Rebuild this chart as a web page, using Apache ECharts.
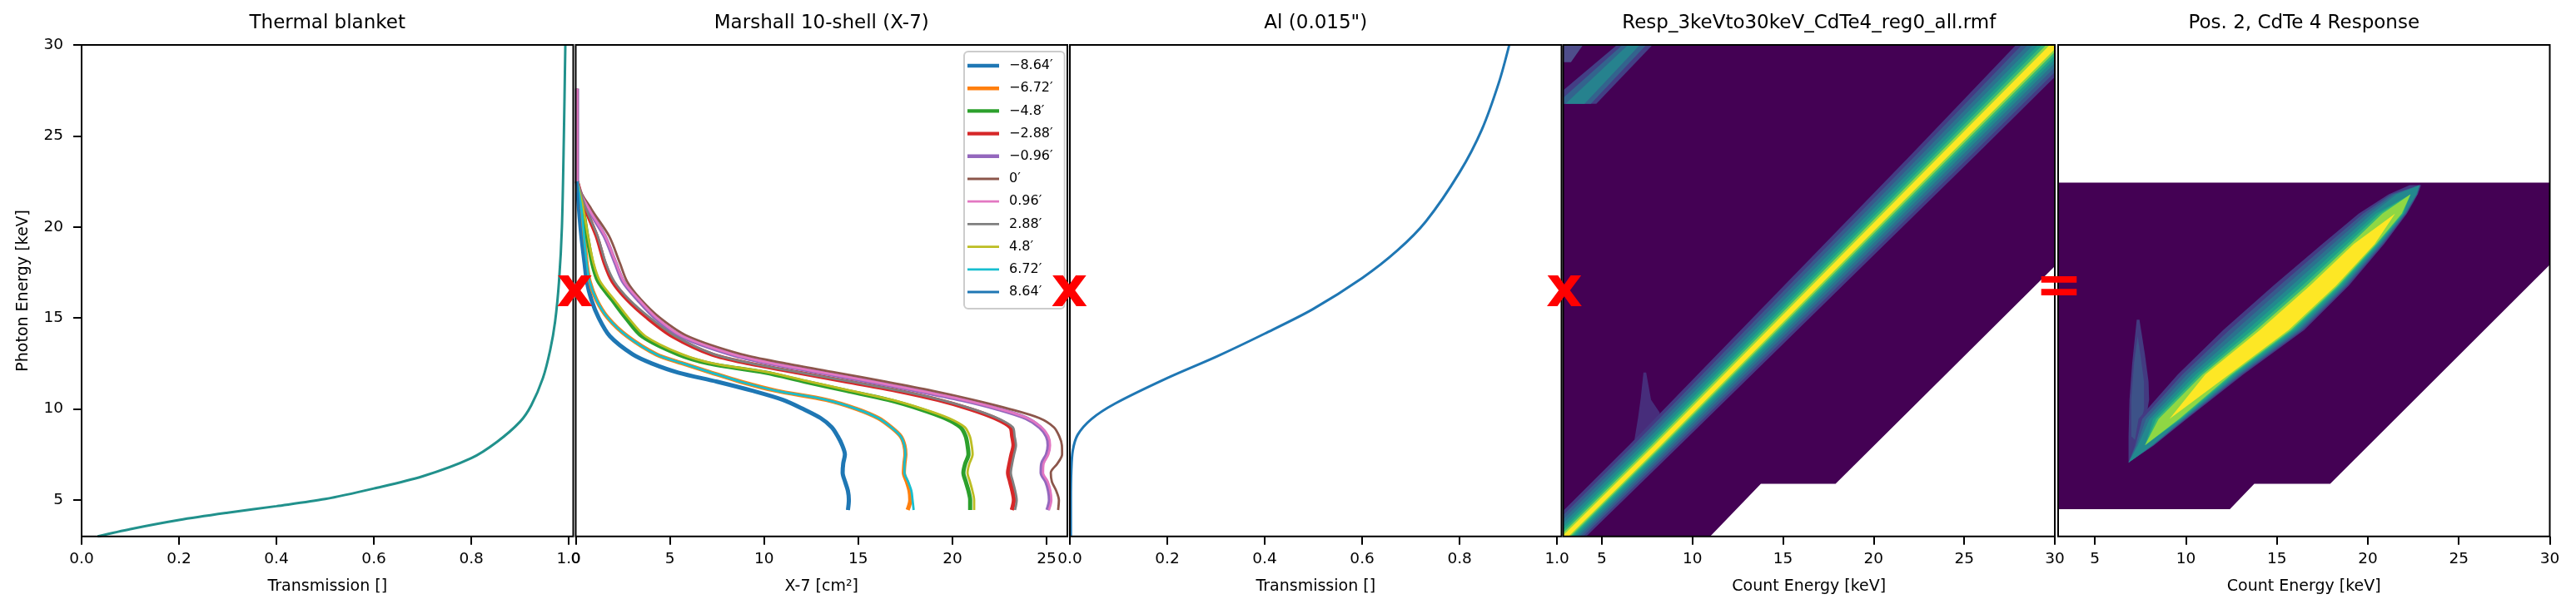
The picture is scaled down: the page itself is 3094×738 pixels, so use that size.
<!DOCTYPE html>
<html>
<head>
    <meta charset="utf-8">
    <script src="https://cdn.jsdelivr.net/npm/echarts@6.0.0/dist/echarts.min.js"></script>
    <title>Response chain</title>
    <style>
        html, body { margin: 0; padding: 0; background: #fff; }
        #main { width: 3094px; height: 738px; }
    </style>
</head>
<body>
<div id="main"></div>
<script type="text/javascript">
// ---- data ----
// thermal blanket transmission vs photon energy
var thermalE = [3.0, 3.4, 3.9, 4.3, 4.66, 5.05, 5.63, 6.3, 7.3, 8.2, 9.3, 10.2, 11.7, 13.25, 14.8, 17.0, 20.0, 25.0, 30.0];
var thermalT = [0.033, 0.1, 0.2, 0.3, 0.4, 0.5, 0.6, 0.7, 0.8, 0.853, 0.9, 0.923, 0.947, 0.962, 0.972, 0.98, 0.986, 0.99, 0.993];

// Al (0.015") transmission
var alE = [3.0, 5.0, 6.64, 7.72, 8.58, 9.44, 10.3, 11.7, 12.89, 14.14, 15.47, 17.19, 18.7, 20.31, 23.0, 25.37, 27.96, 30.0];
var alT = [0.002, 0.002, 0.003, 0.006, 0.016, 0.044, 0.093, 0.2, 0.302, 0.4, 0.498, 0.6, 0.672, 0.731, 0.8, 0.846, 0.881, 0.902];

// Marshall 10-shell effective area [cm2] per off-axis angle, on a common energy grid
var areaE = [27.6, 22.5, 21.0, 19.5, 18.0, 17.0, 16.0, 15.0, 14.0, 13.0, 12.5, 12.0, 11.5, 11.0, 10.5, 10.0, 9.5, 9.0, 8.5, 8.0, 7.5, 7.0, 6.5, 6.0, 5.5, 5.0, 4.45];
var areaM864 = [null, 0.07, 0.17, 0.3, 0.47, 0.59, 0.83, 1.22, 1.81, 3.02, 4.04, 5.44, 7.5, 9.38, 11.0, 12.07, 13.0, 13.59, 13.91, 14.15, 14.29, 14.2, 14.17, 14.3, 14.45, 14.5, 14.45];
var areaM672 = [null, 0.07, 0.3, 0.44, 0.58, 0.74, 1.1, 1.71, 2.73, 4.28, 5.69, 7.19, 8.75, 10.64, 13.3, 14.92, 16.06, 16.74, 17.25, 17.45, 17.5, 17.45, 17.42, 17.58, 17.72, 17.76, 17.62];
var areaM48 = [null, 0.07, 0.38, 0.61, 0.88, 1.2, 1.93, 2.66, 3.51, 5.44, 7.06, 10.05, 12.17, 14.36, 16.59, 18.25, 19.58, 20.42, 20.7, 20.8, 20.85, 20.68, 20.58, 20.71, 20.85, 20.94, 20.94];
var areaM288 = [null, 0.07, 0.52, 1.11, 1.54, 1.96, 2.75, 3.82, 5.14, 7.21, 9.21, 11.79, 14.43, 17.06, 19.23, 20.92, 22.24, 23.07, 23.17, 23.24, 23.13, 23.03, 22.95, 23.06, 23.18, 23.26, 23.15];
var areaM096 = [0.07, 0.07, 0.68, 1.53, 2.12, 2.52, 3.31, 4.23, 5.58, 8.27, 10.37, 13.04, 15.66, 18.19, 20.51, 22.42, 23.9, 24.64, 25.01, 25.1, 25.01, 24.76, 24.73, 24.98, 25.12, 25.17, 25.04];
var areaZero = [0.07, 0.07, 0.82, 1.77, 2.35, 2.73, 3.47, 4.48, 5.94, 8.81, 11.16, 13.83, 16.44, 18.92, 21.1, 23.03, 24.61, 25.38, 25.67, 25.81, 25.82, 25.57, 25.22, 25.28, 25.51, 25.65, 25.61];
var areaP096 = [0.07, 0.07, 0.7, 1.56, 2.15, 2.56, 3.36, 4.3, 5.66, 8.35, 10.45, 13.12, 15.74, 18.27, 20.59, 22.5, 23.98, 24.72, 25.09, 25.18, 25.09, 24.84, 24.81, 25.06, 25.2, 25.25, 25.12];
var areaP288 = [null, 0.07, 0.55, 1.16, 1.6, 2.05, 2.85, 3.95, 5.28, 7.35, 9.35, 11.95, 14.6, 17.22, 19.38, 21.07, 22.38, 23.2, 23.3, 23.37, 23.27, 23.17, 23.1, 23.21, 23.33, 23.41, 23.32];
var areaP48 = [null, 0.07, 0.4, 0.65, 0.95, 1.3, 2.05, 2.8, 3.7, 5.65, 7.3, 10.3, 12.4, 14.6, 16.8, 18.45, 19.8, 20.65, 20.92, 21.02, 21.07, 20.9, 20.8, 20.93, 21.06, 21.15, 21.15];
var areaP672 = [null, 0.07, 0.3, 0.44, 0.58, 0.74, 1.1, 1.71, 2.73, 4.28, 5.69, 7.19, 8.75, 10.64, 13.3, 14.92, 16.06, 16.74, 17.25, 17.45, 17.5, 17.45, 17.45, 17.65, 17.82, 17.88, 17.94];
var areaP864 = [null, 0.07, 0.17, 0.3, 0.47, 0.59, 0.83, 1.22, 1.81, 3.02, 4.04, 5.44, 7.5, 9.38, 11.0, 12.07, 13.0, 13.59, 13.91, 14.15, 14.29, 14.2, 14.17, 14.3, 14.45, 14.5, 14.45];
var areaNames = ['\u22128.64\u2032', '\u22126.72\u2032', '\u22124.8\u2032', '\u22122.88\u2032', '\u22120.96\u2032', '0\u2032',
                 '0.96\u2032', '2.88\u2032', '4.8\u2032', '6.72\u2032', '8.64\u2032'];

// detector response (rmf): filled region outline, count energy C vs photon energy E
var rmfAreaC = [2.5, 10.5, 13.78, 17.9, 30.5, 30.5, 2.5];
var rmfAreaE = [2.5, 2.5, 5.89, 5.89, 18.33, 30.5, 30.5];
// photopeak ridge: knots along the diagonal, outer half widths (left / right, keV)
var rmfRidgeE = [1.5, 8.0, 24.0, 31.5];
var rmfRidgeC = [1.5, 8.1, 24.0, 31.5];
var rmfRidgeL = [1.55, 1.6, 1.9, 2.2];
var rmfRidgeR = [1.1, 1.2, 1.7, 1.8];
// escape tail and top-left artefact outlines
var rmfEscC = [7.3, 7.45, 7.72, 8.2, 8.0, 6.8, 7.0, 7.15];
var rmfEscE = [12.0, 12.0, 10.5, 9.8, 8.8, 8.3, 9.5, 10.6];
var rmfArtC = [2.0, 4.7, 7.85, 5.9];
var rmfArtE = [26.77, 26.77, 30.05, 30.05];
var rmfArtMidC = [2.5, 4.4, 7.5, 6.2];
var rmfArtCoreC = [3.0, 4.05, 7.15, 6.5];
var rmfPatchC = [2.8, 3.3, 4.0, 2.8];
var rmfPatchE = [29.05, 29.05, 30.05, 30.05];

// combined response (Pos. 2, CdTe 4)
var resAreaC = [2.5, 12.42, 13.76, 17.93, 30.5, 30.5, 2.5];
var resAreaE = [4.49, 4.49, 5.89, 5.89, 18.42, 22.44, 22.44];
var resRidgeE = [7.05, 8.0, 9.45, 11.89, 14.33, 16.77, 19.06, 20.73, 21.8, 22.3];
var resRidgeC = [6.85, 7.75, 9.1, 11.65, 14.85, 17.6, 19.9, 21.5, 22.35, 22.85];
var resRidgeL = [0, 0.6, 1.7, 2.1, 2.8, 2.8, 2.4, 2.0, 1.2, 0.55];
var resRidgeR = [0, 0.5, 0.95, 1.5, 1.65, 1.35, 1.0, 0.65, 0.4, 0.08];
var resRidgeTop = [0, 3, 6, 7, 7, 7, 7, 6, 3, 0];   // brightest level reached at each knot
var resEscC = [7.3, 7.45, 7.75, 7.95, 7.98, 7.8, 7.3, 6.85, 6.85, 6.9, 7.05];
var resEscE = [14.9, 14.9, 13.0, 11.5, 10.5, 9.4, 7.8, 7.05, 8.5, 10.5, 12.5];
var resEscInC = [7.35, 7.5, 7.7, 7.7, 7.3, 7.0, 7.0, 7.15];
var resEscInE = [14.0, 13.0, 11.5, 10.0, 8.2, 8.5, 10.5, 12.5];

// ---- styles ----
var FONT = 'DejaVu Sans';
var areaColors = ['#1f77b4', '#ff7f0e', '#2ca02c', '#d62728', '#9467bd', '#8c564b',
                  '#e377c2', '#7f7f7f', '#bcbd22', '#17becf', '#1f77b4'];
var areaWidths = [5, 5, 5, 5, 5, 2.8, 2.8, 2.8, 2.8, 2.8, 2.8];
var thickIcon = 'path://M0,0M38,16M0,5.8L38,5.8L38,10.2L0,10.2Z';
var thinIcon = 'path://M0,0M38,16M0,6.6L38,6.6L38,9.4L0,9.4Z';
var bandColors = ['#443a83', '#38598c', '#2c718e', '#23888e', '#1f9f88', '#35b779', '#8fd744', '#fde725'];
var rmfFrac = [1, 0.85, 0.7, 0.56, 0.43, 0.32, 0.22, 0.13];
var resFracL = [1, 0.88, 0.76, 0.64, 0.53, 0.43, 0.35, 0.28];
var resFracR = [1, 0.93, 0.86, 0.79, 0.71, 0.63, 0.56, 0.48];
var bgPurple = '#440154';

var gridLeft = [98, 691.5, 1285, 1877.5, 2472];
var gridWidth = 590.5;
var gridTop = 54;
var gridHeight = 590.7;

function zip(a, b) {
    return a.map(function (v, i) { return [v, b[i]]; });
}

// nested ridge outlines, one polygon per colour level
function ridgeShapes(E, C, L, R, top, fracL, fracR) {
    var out = [];
    for (var k = 0; k < bandColors.length; k++) {
        var left = [], right = [];
        for (var i = 0; i < E.length; i++) {
            var on = top ? k <= top[i] : true;
            var wl = on ? L[i] * fracL[k] : 0;
            var wr = on ? R[i] * fracR[k] : 0;
            left.push([C[i] - wl, E[i]]);
            right.push([C[i] + wr, E[i]]);
        }
        out.push({ pts: left.concat(right.reverse()), color: bandColors[k] });
    }
    return out;
}

var rmfShapes = [{ pts: zip(rmfAreaC, rmfAreaE), color: bgPurple },
                 { pts: zip(rmfArtC, rmfArtE), color: '#433e85' },
                 { pts: zip(rmfArtMidC, rmfArtE), color: '#33638d' },
                 { pts: zip(rmfArtCoreC, rmfArtE), color: '#26828e' },
                 { pts: zip(rmfPatchC, rmfPatchE), color: '#4e4d8b' },
                 { pts: zip(rmfEscC, rmfEscE), color: '#472d7b' }]
    .concat(ridgeShapes(rmfRidgeE, rmfRidgeC, rmfRidgeL, rmfRidgeR, null, rmfFrac, rmfFrac));

var resShapes = [{ pts: zip(resAreaC, resAreaE), color: bgPurple },
                 { pts: zip(resEscC, resEscE), color: '#433a80' },
                 { pts: zip(resEscInC, resEscInE), color: '#3d5288' }]
    .concat(ridgeShapes(resRidgeE, resRidgeC, resRidgeL, resRidgeR, resRidgeTop, resFracL, resFracR));

function polyRender(shapes) {
    return function (params, api) {
        var s = shapes[params.dataIndex];
        return {
            type: 'polygon',
            shape: { points: s.pts.map(function (p) { return api.coord(p); }) },
            style: { fill: s.color, stroke: null },
            silent: true
        };
    };
}

var chart = echarts.init(document.getElementById('main'));

var grids = gridLeft.map(function (l) {
    return { left: l, top: gridTop, width: gridWidth, height: gridHeight,
             show: true, borderColor: '#000', borderWidth: 2, backgroundColor: 'transparent', z: 10 };
});

function fmt1(v) { return v.toFixed(1); }
function fmt0(v) { return String(v); }

function xAxisFor(i, min, max, ticks, name, fmt) {
    return {
        type: 'value', gridIndex: i, min: min, max: max,
        name: name, nameLocation: 'middle', nameGap: 51,
        nameTextStyle: { fontFamily: FONT, fontSize: 19, color: '#000' },
        axisLine: { show: false },
        splitLine: { show: false },
        axisTick: { show: true, length: 10, lineStyle: { color: '#000', width: 2 }, customValues: ticks },
        axisLabel: { show: true, margin: 18, fontFamily: FONT, fontSize: 18.5, color: '#000',
                     customValues: ticks, formatter: fmt }
    };
}

var xAxes = [
    xAxisFor(0, 0, 1.0092, [0, 0.2, 0.4, 0.6, 0.8, 1.0], 'Transmission []', fmt1),
    xAxisFor(1, 0, 26.1, [0, 5, 10, 15, 20, 25], 'X-7 [cm\u00b2]', fmt0),
    xAxisFor(2, 0, 1.0092, [0, 0.2, 0.4, 0.6, 0.8, 1.0], 'Transmission []', fmt1),
    xAxisFor(3, 2.87, 30, [5, 10, 15, 20, 25, 30], 'Count Energy [keV]', fmt0),
    xAxisFor(4, 2.98, 30, [5, 10, 15, 20, 25, 30], 'Count Energy [keV]', fmt0)
];

var yAxes = gridLeft.map(function (l, i) {
    if (i === 0) {
        return {
            type: 'value', gridIndex: 0, min: 3, max: 30,
            name: 'Photon Energy [keV]', nameLocation: 'middle', nameGap: 60, nameRotate: 90,
            nameTextStyle: { fontFamily: FONT, fontSize: 19, color: '#000' },
            axisLine: { show: false },
            splitLine: { show: false },
            axisTick: { show: true, length: 10, lineStyle: { color: '#000', width: 2 },
                        customValues: [5, 10, 15, 20, 25, 30] },
            axisLabel: { show: true, margin: 22, fontFamily: FONT, fontSize: 18.5, color: '#000',
                         customValues: [5, 10, 15, 20, 25, 30] }
        };
    }
    return { type: 'value', gridIndex: i, min: 3, max: 30,
             axisLine: { show: false }, axisTick: { show: false },
             axisLabel: { show: false }, splitLine: { show: false } };
});

var titles = ['Thermal blanket', 'Marshall 10-shell (X-7)', 'Al (0.015")',
              'Resp_3keVto30keV_CdTe4_reg0_all.rmf', 'Pos. 2, CdTe 4 Response'];

var series = [];

series.push({
    type: 'line', xAxisIndex: 0, yAxisIndex: 0, data: zip(thermalT, thermalE),
    symbol: 'none', smooth: 0.3, silent: true,
    lineStyle: { color: '#21918c', width: 3 }
});

var areaSets = [areaM864, areaM672, areaM48, areaM288, areaM096, areaZero,
                areaP096, areaP288, areaP48, areaP672, areaP864];
areaSets.forEach(function (vals, k) {
    var pts = [];
    vals.forEach(function (a, i) { if (a !== null) pts.push([a, areaE[i]]); });
    series.push({
        name: areaNames[k], type: 'line', xAxisIndex: 1, yAxisIndex: 1, data: pts,
        symbol: 'none', smooth: 0.3, silent: true,
        lineStyle: { color: areaColors[k], width: areaWidths[k] },
        itemStyle: { color: areaColors[k], borderWidth: 0 }
    });
});

series.push({
    type: 'line', xAxisIndex: 2, yAxisIndex: 2, data: zip(alT, alE),
    symbol: 'none', smooth: 0.3, silent: true,
    lineStyle: { color: '#1f77b4', width: 3 }
});

series.push({
    type: 'custom', xAxisIndex: 3, yAxisIndex: 3, clip: true, silent: true,
    renderItem: polyRender(rmfShapes),
    data: rmfShapes.map(function (s) { return [s.pts[0][0], s.pts[0][1]]; })
});
series.push({
    type: 'custom', xAxisIndex: 4, yAxisIndex: 4, clip: true, silent: true,
    renderItem: polyRender(resShapes),
    data: resShapes.map(function (s) { return [s.pts[0][0], s.pts[0][1]]; })
});

var markX = [690.5, 1284.5, 1879, 2473];
var markY = [350, 350, 350, 347];
var markText = ['x', 'x', 'x', '='];

chart.setOption({
    animation: false,
    backgroundColor: '#fff',
    title: titles.map(function (t, i) {
        return { text: t, left: gridLeft[i] + gridWidth / 2, top: 17, padding: 0, textAlign: 'center',
                 textStyle: { fontFamily: FONT, fontSize: 23, fontWeight: 'normal', color: '#000' } };
    }),
    legend: {
        data: areaNames.map(function (n, k) {
            return { name: n, icon: areaWidths[k] > 3 ? thickIcon : thinIcon };
        }),
        orient: 'vertical',
        left: 1158, top: 62,
        padding: [9, 14, 12, 4],
        itemGap: 11.2,
        itemWidth: 38, itemHeight: 16,
        backgroundColor: 'rgba(255,255,255,0.8)',
        borderColor: '#cccccc', borderWidth: 2, borderRadius: 5,
        itemStyle: { borderWidth: 0 },
        selectedMode: false,
        textStyle: { fontFamily: FONT, fontSize: 16, color: '#000', padding: [0, 0, 0, 7] }
    },
    grid: grids,
    xAxis: xAxes,
    yAxis: yAxes,
    series: series,
    graphic: markX.map(function (x, i) {
        return {
            type: 'text', x: x, y: markY[i], z: 100,
            style: { text: markText[i], fill: '#ff0000', font: 'bold 68px "DejaVu Sans"',
                     align: 'center', verticalAlign: 'middle', textAlign: 'center', textVerticalAlign: 'middle' }
        };
    })
});
</script>
</body>
</html>
